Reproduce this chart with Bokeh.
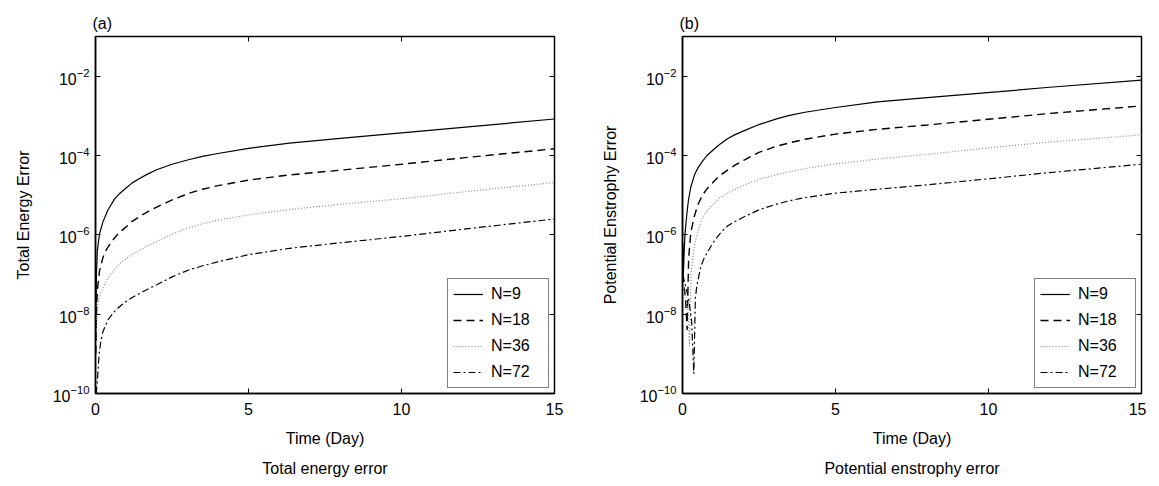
from bokeh.plotting import figure
from bokeh.models import (Range1d, LogAxis, LinearAxis, FixedTicker, Legend, LegendItem,
                          Title, CustomJSTickFormatter)
from bokeh.layouts import row
from bokeh.embed import file_html
from bokeh.resources import INLINE

# ---------------- data (log10 of error) ----------------
labels = ["N=9", "N=18", "N=36", "N=72"]

# (a) Total energy error
a_t9 = [0.01, 0.03, 0.06, 0.13, 0.24, 0.4, 0.62, 0.8, 1.0, 1.2, 1.44, 1.7, 2.0, 2.5, 3.07, 3.5, 4.0, 5.0, 6.34, 8.0, 10.0, 12.0, 15.0]
a_v9 = [-8.5, -7.0, -6.4, -5.98, -5.68, -5.38, -5.1, -4.95, -4.82, -4.69, -4.58, -4.47, -4.36, -4.22, -4.1, -4.02, -3.95, -3.82, -3.69, -3.57, -3.43, -3.29, -3.08]
a_t18 = [0.01, 0.03, 0.06, 0.13, 0.24, 0.35, 0.5, 0.62, 0.8, 1.0, 1.2, 1.44, 1.7, 2.0, 2.5, 3.07, 3.5, 4.0, 5.0, 6.34, 8.0, 10.0, 12.0, 15.0]
a_v18 = [-9.0, -8.0, -7.4, -6.92, -6.58, -6.38, -6.2, -6.08, -5.93, -5.8, -5.66, -5.54, -5.42, -5.3, -5.12, -4.95, -4.85, -4.76, -4.62, -4.49, -4.37, -4.22, -4.06, -3.83]
a_t36 = [0.01, 0.03, 0.06, 0.13, 0.24, 0.4, 0.62, 0.8, 1.0, 1.2, 1.44, 1.7, 2.0, 2.5, 3.07, 3.5, 4.0, 5.0, 6.34, 8.0, 10.0, 12.0, 15.0]
a_v36 = [-8.6, -8.3, -7.9, -7.55, -7.33, -7.1, -6.87, -6.72, -6.6, -6.49, -6.39, -6.28, -6.17, -5.98, -5.82, -5.72, -5.63, -5.5, -5.36, -5.23, -5.09, -4.92, -4.68]
a_t72 = [0.02, 0.05, 0.07, 0.1, 0.13, 0.18, 0.24, 0.4, 0.62, 0.8, 1.0, 1.2, 1.44, 1.7, 2.0, 2.5, 3.07, 3.5, 4.0, 5.0, 6.34, 8.0, 10.0, 12.0, 15.0]
a_v72 = [-10.0, -9.8, -9.6, -9.2, -8.93, -8.65, -8.45, -8.15, -7.93, -7.8, -7.68, -7.58, -7.48, -7.37, -7.26, -7.06, -6.88, -6.78, -6.68, -6.5, -6.34, -6.2, -6.04, -5.86, -5.6]

# (b) Potential enstrophy error
b_t9 = [0.01, 0.03, 0.05, 0.08, 0.12, 0.16, 0.2, 0.27, 0.4, 0.5, 0.65, 0.8, 1.0, 1.2, 1.47, 1.7, 2.0, 2.5, 3.1, 3.5, 4.0, 5.0, 6.37, 8.0, 10.36, 12.0, 15.0]
b_v9 = [-6.2, -7.0, -6.5, -6.0, -5.65, -5.35, -5.1, -4.8, -4.47, -4.32, -4.15, -4.0, -3.86, -3.73, -3.58, -3.48, -3.38, -3.22, -3.07, -2.99, -2.91, -2.79, -2.65, -2.54, -2.39, -2.28, -2.1]
b_t18 = [0.01, 0.05, 0.1, 0.15, 0.2, 0.27, 0.38, 0.5, 0.65, 0.8, 0.93, 1.2, 1.47, 1.7, 2.0, 2.5, 3.1, 3.5, 4.0, 5.0, 6.37, 8.0, 10.36, 12.0, 15.0]
b_v18 = [-7.0, -7.3, -7.6, -8.4, -6.6, -5.95, -5.55, -5.25, -5.0, -4.84, -4.73, -4.52, -4.37, -4.25, -4.12, -3.92, -3.76, -3.68, -3.59, -3.46, -3.34, -3.23, -3.06, -2.94, -2.75]
b_t36 = [0.01, 0.06, 0.12, 0.18, 0.23, 0.28, 0.33, 0.4, 0.49, 0.65, 0.8, 0.93, 1.2, 1.47, 1.7, 2.0, 2.5, 3.1, 3.5, 4.0, 5.0, 6.37, 8.0, 10.36, 12.0, 15.0]
b_v36 = [-7.2, -7.4, -7.6, -7.9, -8.8, -7.0, -6.6, -6.25, -5.95, -5.58, -5.4, -5.28, -5.08, -4.95, -4.86, -4.75, -4.6, -4.48, -4.41, -4.33, -4.21, -4.09, -3.97, -3.78, -3.66, -3.48]
b_t72 = [0.01, 0.1, 0.2, 0.3, 0.37, 0.42, 0.47, 0.6, 0.7, 0.82, 1.0, 1.14, 1.3, 1.47, 1.7, 2.0, 2.5, 3.1, 3.5, 4.0, 5.0, 6.37, 8.0, 10.36, 12.0, 15.0]
b_v72 = [-7.0, -7.3, -7.6, -8.2, -9.5, -7.6, -7.27, -6.8, -6.6, -6.43, -6.2, -6.05, -5.9, -5.78, -5.67, -5.55, -5.37, -5.22, -5.14, -5.06, -4.95, -4.85, -4.74, -4.56, -4.43, -4.22]

x_ticks = [0, 5, 10, 15]
y_ticks = [1e-10, 1e-8, 1e-6, 1e-4, 1e-2]

FONT = "Liberation Sans"
FS = "16px"
styles = [
    dict(line_color="black", line_dash="solid", line_width=1.2),
    dict(line_color="black", line_dash="8 5", line_width=1.4),
    dict(line_color="#8c8c8c", line_dash="1 2", line_width=1.2),
    dict(line_color="black", line_dash="7 3 2 3", line_width=1.2),
]

blank_fmt = CustomJSTickFormatter(code="return '';")


def make_panel(tag, ylabel, caption, series, width, left_border, right_border):
    p = figure(width=width, height=484, output_backend="svg", toolbar_location=None,
               y_axis_type="log", x_range=Range1d(0, 15), y_range=Range1d(1e-10, 1e-1),
               min_border_left=left_border, min_border_right=right_border,
               min_border_top=36, min_border_bottom=90)
    p.title.text = tag
    p.title.text_font = FONT
    p.title.text_font_size = FS
    p.title.text_font_style = "normal"
    p.title.text_color = "black"
    p.title.offset = -3
    p.title.standoff = 9
    p.grid.visible = False
    p.outline_line_color = "black"
    p.outline_line_width = 1.5
    p.background_fill_color = "white"
    p.border_fill_color = "white"

    renderers = []
    for (t, v), st in zip(series, styles):
        r = p.line(t, [10 ** x for x in v], **st)
        renderers.append(r)

    for ax in (p.xaxis[0], p.yaxis[0]):
        ax.major_tick_in = 5
        ax.major_tick_out = 0
        ax.minor_tick_in = 0
        ax.minor_tick_out = 0
        ax.axis_line_width = 1.5
        ax.major_label_text_font = FONT
        ax.major_label_text_font_size = FS
        ax.axis_label_text_font = FONT
        ax.axis_label_text_font_size = FS
        ax.axis_label_text_font_style = "normal"
        ax.major_label_text_color = "black"
        ax.axis_label_text_color = "black"
    p.xaxis[0].ticker = FixedTicker(ticks=x_ticks)
    p.yaxis[0].ticker = FixedTicker(ticks=y_ticks, minor_ticks=[])
    p.xaxis[0].axis_label = "Time (Day)"
    p.xaxis[0].axis_label_standoff = 12
    p.xaxis[0].major_label_standoff = 9
    p.yaxis[0].axis_label = ylabel
    p.yaxis[0].major_label_standoff = 6
    p.yaxis[0].axis_label_standoff = 18

    top = LinearAxis(ticker=FixedTicker(ticks=x_ticks), formatter=blank_fmt,
                     major_tick_in=5, major_tick_out=0, minor_tick_in=0, minor_tick_out=0,
                     major_label_standoff=0, axis_line_color=None)
    rgt = LogAxis(ticker=FixedTicker(ticks=y_ticks, minor_ticks=[]), formatter=blank_fmt,
                  major_tick_in=5, major_tick_out=0, minor_tick_in=0, minor_tick_out=0,
                  major_label_standoff=0, axis_line_color=None)
    p.add_layout(top, "above")
    p.add_layout(rgt, "right")

    legend = Legend(items=[LegendItem(label=l, renderers=[r]) for l, r in zip(labels, renderers)],
                    location="bottom_right", label_text_font=FONT, label_text_font_size=FS,
                    label_text_color="black",
                    glyph_width=30, glyph_height=20, label_height=20, label_width=52,
                    spacing=6, padding=5, margin=5, border_line_color="black",
                    border_line_width=1.5, label_standoff=8)
    p.add_layout(legend)

    cap = Title(text=caption, align="center", text_font=FONT, text_font_size=FS,
                text_font_style="normal", text_color="black", offset=0, standoff=16)
    p.add_layout(cap, "below")
    return p


pa = make_panel("(a)", "Total Energy Error", "Total energy error",
                [(a_t9, a_v9), (a_t18, a_v18), (a_t36, a_v36), (a_t72, a_v72)],
                width=580, left_border=95, right_border=26)
pb = make_panel("(b)", "Potential Enstrophy Error", "Potential enstrophy error",
                [(b_t9, b_v9), (b_t18, b_v18), (b_t36, b_v36), (b_t72, b_v72)],
                width=566, left_border=102, right_border=5)

layout = row(pa, pb)
open("out.html", "w").write(file_html(layout, INLINE))
